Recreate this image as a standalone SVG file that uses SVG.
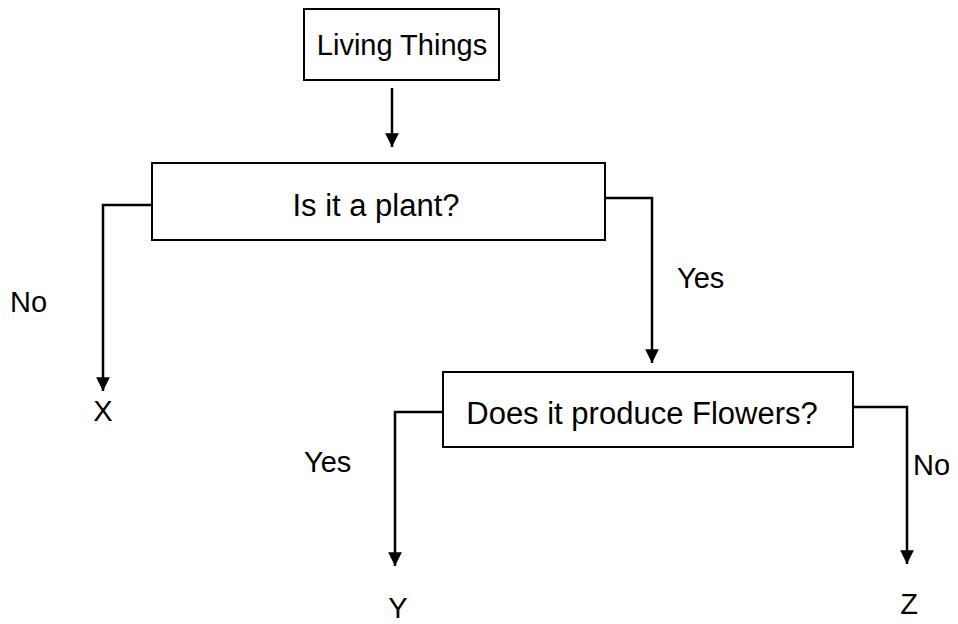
<svg xmlns="http://www.w3.org/2000/svg" width="958" height="624" viewBox="0 0 958 624">
<defs>
<style>
.box{fill:#fff;stroke:#000;stroke-width:2}
.t{font-family:"Liberation Sans",Arial,sans-serif;font-size:29px;fill:#000}
.big{font-size:31px}
.c{text-anchor:middle}
.ln{fill:none;stroke:#000;stroke-width:2.5}
</style>
<marker id="ah" viewBox="0 0 10 10" refX="10" refY="5" markerWidth="5.5" markerHeight="5.5" markerUnits="strokeWidth" orient="auto">
<path d="M0,0 L10,5 L0,10 z" fill="#000"/>
</marker>
</defs>
<rect width="958" height="624" fill="#fff"/>
<g id="living">
<rect class="box" x="304" y="9" width="195" height="71"/>
<text class="t c" x="402" y="55">Living Things</text>
</g>
<g id="plant">
<rect class="box" x="152" y="163" width="453" height="77"/>
<text class="t big c" x="376" y="216">Is it a plant?</text>
</g>
<g id="flowers">
<rect class="box" x="443" y="372" width="410" height="75"/>
<text class="t big c" x="642" y="424">Does it produce Flowers?</text>
</g>
<g id="x"><text class="t c" x="103" y="421">X</text></g>
<g id="y"><text class="t c" x="398" y="618">Y</text></g>
<g id="z"><text class="t c" x="909" y="614">Z</text></g>
<g id="connectors">
<path class="ln" d="M392,88 V147" marker-end="url(#ah)"/>
<path class="ln" d="M152,205 H103 V391" marker-end="url(#ah)"/>
<path class="ln" d="M605,198 H652 V363" marker-end="url(#ah)"/>
<path class="ln" d="M443,412 H395 V566" marker-end="url(#ah)"/>
<path class="ln" d="M853,407 H907 V564" marker-end="url(#ah)"/>
<text class="t" x="10" y="312">No</text>
<text class="t" x="677" y="288">Yes</text>
<text class="t" x="304" y="472">Yes</text>
<text class="t" x="913" y="475">No</text>
</g>
</svg>
